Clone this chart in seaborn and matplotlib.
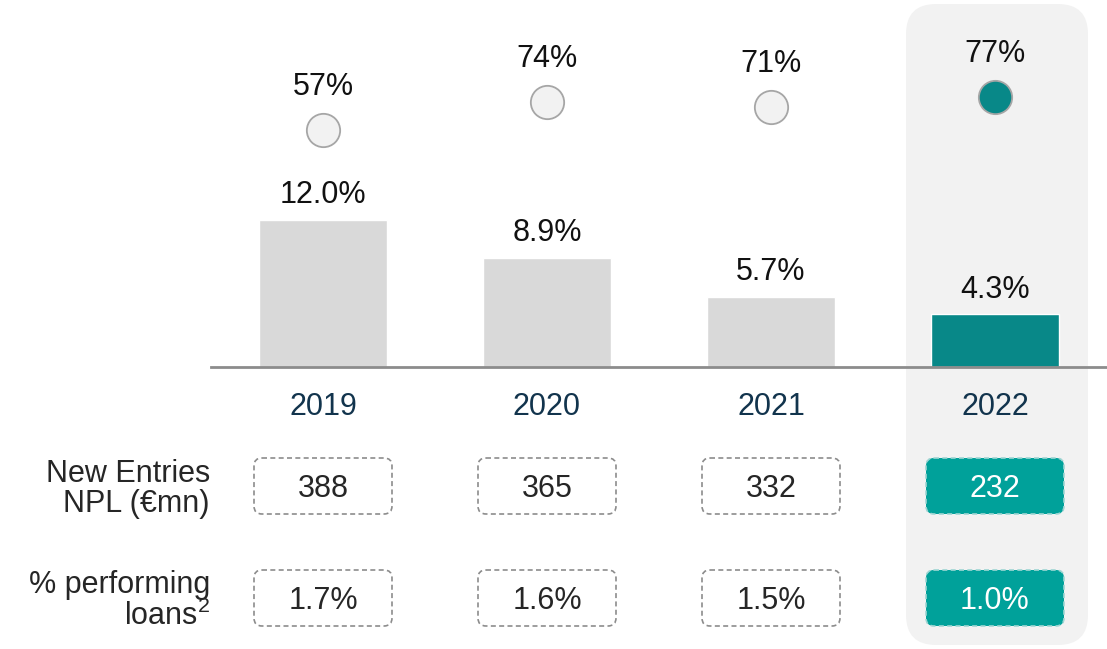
import matplotlib
matplotlib.use('Agg')
import matplotlib.pyplot as plt
from matplotlib.patches import FancyBboxPatch
import pandas as pd
import seaborn as sns

# Data
years = ['2019', '2020', '2021', '2022']
npl_ratio = [12.0, 8.9, 5.7, 4.3]          # bars
coverage = [57, 74, 71, 77]               # circles
new_entries = ['388', '365', '332', '232']
pct_performing = ['1.7%', '1.6%', '1.5%', '1.0%']
row_labels = ['New Entries\nNPL (€mn)', '% performing\nloans$^\\mathrm{2}$']

grey_bar = '#d9d9d9'
teal_bar = '#088888'
teal_box = '#00a19a'
panel = '#f2f2f2'
year_col = '#12344d'

sns.set_style('white')
plt.rcParams['font.family'] = ['Liberation Sans', 'DejaVu Sans']
plt.rcParams['mathtext.fontset'] = 'custom'
plt.rcParams['mathtext.rm'] = 'Liberation Sans'

W, H = 1107, 649
fig = plt.figure(figsize=(W / 100, H / 100), dpi=100)

# background highlight panel (pixel coords)
ax_bg = fig.add_axes([0, 0, 1, 1])
ax_bg.set_xlim(0, W)
ax_bg.set_ylim(H, 0)
ax_bg.axis('off')
ax_bg.add_patch(FancyBboxPatch((906, 4), 182, 641,
                               boxstyle='round,pad=0,rounding_size=30',
                               fc=panel, ec='none'))

# main bar axes
left = 211 / W
width = 896 / W
base = (H - 367) / H
ax = fig.add_axes([left, base, width, 367 / H])
ax.patch.set_alpha(0)
df = pd.DataFrame({'year': years, 'npl': npl_ratio})
colors = [grey_bar, grey_bar, grey_bar, teal_bar]
sns.barplot(data=df, x='year', y='npl', hue='year', palette=colors,
            legend=False, width=0.567, ax=ax, saturation=1)
ax.set_xlim(-0.5, 3.5)
ax.set_ylim(0, 367 / 12.25)
for cont in ax.containers:
    ax.bar_label(cont, labels=[f'{v:.1f}%' for v in cont.datavalues],
                 padding=7, fontsize=22, color='#111111')
for s in ['top', 'right', 'left']:
    ax.spines[s].set_visible(False)
ax.spines['bottom'].set_color('#8c8c8c')
ax.spines['bottom'].set_linewidth(2)
ax.set_yticks([])
ax.set_xlabel('')
ax.set_ylabel('')
ax.tick_params(axis='x', length=0, pad=18, labelsize=22, labelcolor=year_col)

# circles on twin axis
ax2 = ax.twinx()
ax2.set_ylim(-86.6, 135.8)
ax2.axis('off')
xs = list(range(len(years)))
fills = [panel, panel, panel, teal_bar]
for x, v, c in zip(xs, coverage, fills):
    ax2.plot(x, v, 'o', ms=24, mfc=c, mec='#a6a6a6', mew=1.3)
    ax2.annotate(f'{v}%', (x, v), xytext=(0, 31), textcoords='offset points',
                 ha='center', va='center', fontsize=22, color='#111111')

# table rows below
ax_t = fig.add_axes([left, 0, width, base])
ax_t.set_xlim(-0.5, 3.5)
ax_t.set_ylim(H - 367, 0)
ax_t.axis('off')
row_centers = [119, 231]
box_w = 138 / 224
box_h = 56
rows = [new_entries, pct_performing]
for rc, vals, lab in zip(row_centers, rows, row_labels):
    ax_t.text(-0.505, rc + 3, lab, ha='right', va='center', fontsize=22,
              color='#262626', linespacing=1.0, clip_on=False)
    for i, val in enumerate(vals):
        hl = i == len(vals) - 1
        box = FancyBboxPatch((i - box_w / 2, rc - box_h / 2), box_w, box_h,
                             boxstyle=f'round,pad=0,rounding_size={8 / 224}',
                             mutation_aspect=224,
                             fc=teal_box if hl else 'none',
                             ec='#9fd6d3' if hl else '#8c8c8c',
                             lw=1.2, ls=(0, (3, 2)))
        ax_t.add_patch(box)
        ax_t.text(i, rc + 3, val, ha='center', va='center', fontsize=22,
                  color='white' if hl else '#262626')

fig.savefig('out.png', dpi=100)
